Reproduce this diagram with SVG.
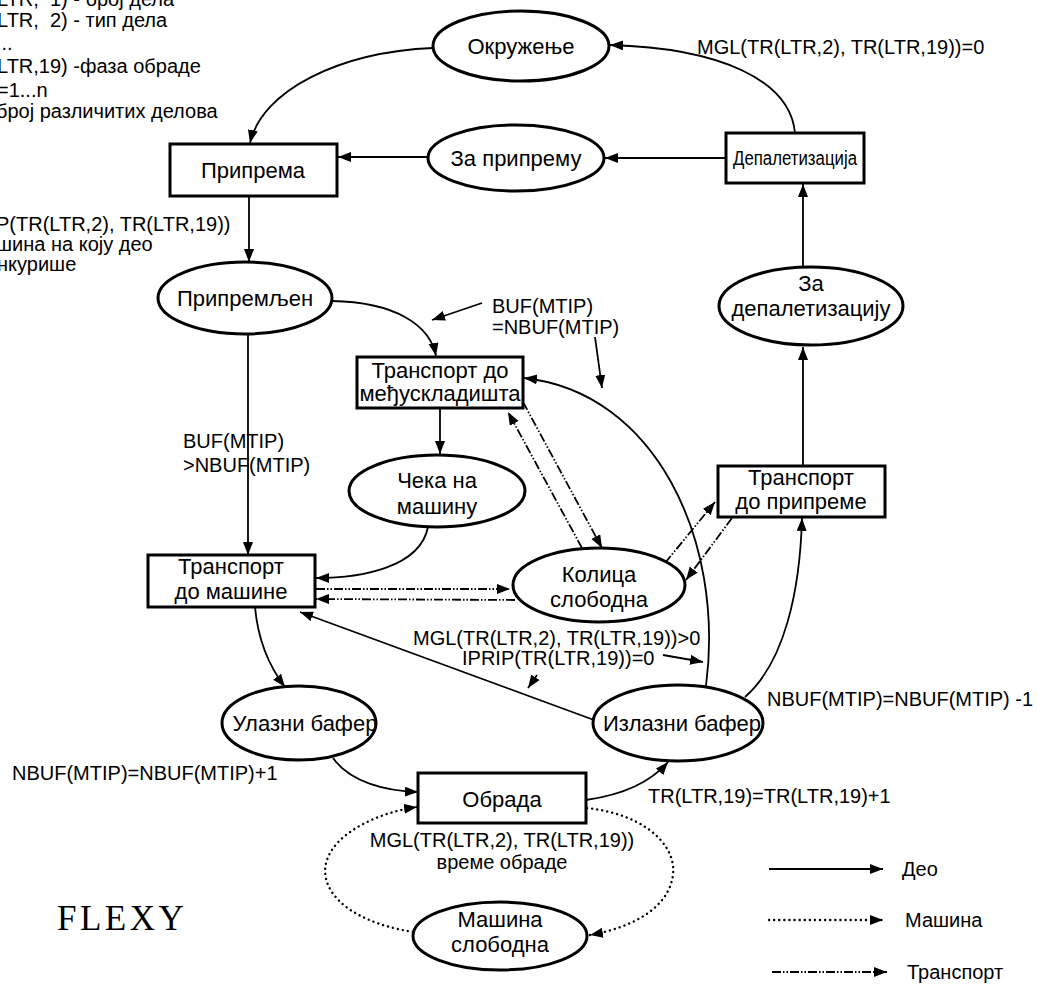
<svg xmlns="http://www.w3.org/2000/svg" width="1037" height="985" viewBox="0 0 1037 985">
<style>
.n{fill:#fff;stroke:#000;stroke-width:3}
.t{font-family:"Liberation Sans",Arial,sans-serif;font-size:22px;fill:#000;text-anchor:middle}
.l{font-family:"Liberation Sans",Arial,sans-serif;font-size:20px;fill:#000}
.c{fill:none;stroke:#000;stroke-width:1.8}
.s{marker-end:url(#ah)}
.d{stroke-dasharray:0.1 5;stroke-linecap:round;stroke-width:2.4}
.tr{stroke-dasharray:9 2 1.5 2 1.5 2}
</style>
<defs>
<marker id="ah" markerUnits="userSpaceOnUse" markerWidth="14" markerHeight="11" refX="13" refY="5" orient="auto">
<path d="M0,0 L13,5 L0,10 z" fill="#000"/>
</marker>
</defs>
<rect width="1037" height="985" fill="#fff"/>

<g id="notes">
<text class="l" x="-3" y="6" xml:space="preserve">LTR,  1) - број дела</text>
<text class="l" x="-3" y="27" xml:space="preserve">LTR,  2) - тип дела</text>
<text class="l" x="-4" y="50">...</text>
<text class="l" x="-3" y="73">LTR,19) -фаза обраде</text>
<text class="l" x="-3" y="97">=1...n</text>
<text class="l" x="-4" y="118">број различитих делова</text>
<text class="l" x="-4" y="231">P(TR(LTR,2), TR(LTR,19))</text>
<text class="l" x="-4" y="251">шина на коју део</text>
<text class="l" x="-3" y="271">нкурише</text>
<text class="l" x="697" y="54">MGL(TR(LTR,2), TR(LTR,19))=0</text>
<text class="l" x="492" y="313">BUF(MTIP)</text>
<text class="l" x="492" y="334">=NBUF(MTIP)</text>
<text class="l" x="183" y="448">BUF(MTIP)</text>
<text class="l" x="183" y="472">&gt;NBUF(MTIP)</text>
<text class="l" x="413" y="645">MGL(TR(LTR,2), TR(LTR,19))&gt;0</text>
<text class="l" x="462" y="665">IPRIP(TR(LTR,19))=0</text>
<text class="l" x="767" y="706">NBUF(MTIP)=NBUF(MTIP) -1</text>
<text class="l" x="12" y="780">NBUF(MTIP)=NBUF(MTIP)+1</text>
<text class="l" x="648" y="803">TR(LTR,19)=TR(LTR,19)+1</text>
<text class="l" x="502" y="847" text-anchor="middle">MGL(TR(LTR,2), TR(LTR,19))</text>
<text class="l" x="502" y="869" text-anchor="middle">време обраде</text>
<text x="57" y="930" font-family="'Liberation Serif','Times New Roman',serif" font-size="35" letter-spacing="3.5" fill="#000">FLEXY</text>
</g>

<g id="connectors">
<path class="c s" d="M433,48 C340,52 262,90 250,143"/>
<path class="c s" d="M428,157 L338,157"/>
<path class="c s" d="M726,158 L605,158"/>
<path class="c s" d="M795,133 C790,80 720,48 610,45"/>
<path class="c s" d="M249,196 L249,262"/>
<path class="c s" d="M332,301 C395,302 430,325 436,356"/>
<path class="c s" d="M248,334 L248,555"/>
<path class="c s" d="M440,408 L440,454"/>
<path class="c s" d="M428,527 C420,568 360,578 316,578"/>
<path class="c s" d="M255,607 C258,640 268,665 285,687"/>
<path class="c s" d="M333,758 C350,782 385,791 418,792"/>
<path class="c s" d="M586,800 C622,795 650,783 668,762"/>
<path class="c s" d="M594,720 L300,612"/>
<path class="c s" d="M706,686 C725,540 655,392 524,378"/>
<path class="c s" d="M745,697 C785,662 800,590 802,518"/>
<path class="c s" d="M803,466 L803,347"/>
<path class="c s" d="M803,267 L803,184"/>
<path class="c s" d="M482,303 L432,320"/>
<path class="c s" d="M595,337 L602,388"/>
<path class="c s" d="M663,655 L703,662"/>
<path class="c s" d="M537,675 L528,688"/>
<path class="c d s" d="M413,932 C340,920 318,885 327,860 C336,832 380,812 417,807"/>
<path class="c d s" d="M587,808 C650,815 680,850 672,880 C665,910 630,928 590,935"/>
<path class="c tr s" d="M582,548 L508,412"/>
<path class="c tr s" d="M523,402 L602,548"/>
<path class="c tr s" d="M665,563 L715,502"/>
<path class="c tr s" d="M732,518 L686,580"/>
<path class="c tr s" d="M316,589 L510,589"/>
<path class="c tr s" d="M515,600 L316,599"/>
</g>

<g id="legend">
<path class="c s" d="M769,869 L883,869"/>
<path class="c d s" d="M769,920 L883,920"/>
<path class="c tr s" d="M772,972 L887,972"/>
<text class="l" x="902" y="876">Део</text>
<text class="l" x="905" y="927">Машина</text>
<text class="l" x="907" y="979">Транспорт</text>
</g>

<g id="okruzenje"><ellipse class="n" cx="521" cy="46" rx="88" ry="35"/><text class="t" x="521" y="54">Окружење</text></g>
<g id="za-pripremu"><ellipse class="n" cx="516" cy="158" rx="88" ry="33"/><text class="t" x="516" y="166">За припрему</text></g>
<g id="depaletizacija"><rect class="n" x="726" y="133" width="138" height="50"/><text class="t" x="795" y="165" style="font-size:20px" textLength="124" lengthAdjust="spacingAndGlyphs">Депалетизација</text></g>
<g id="priprema"><rect class="n" x="170" y="144" width="167" height="52"/><text class="t" x="253" y="178">Припрема</text></g>
<g id="pripremljen"><ellipse class="n" cx="245" cy="298" rx="87" ry="36"/><text class="t" x="245" y="306">Припремљен</text></g>
<g id="transport-medju"><rect class="n" x="357" y="357" width="166" height="51"/><text class="t" x="440" y="378">Транспорт до</text><text class="t" x="440" y="401">међускладишта</text></g>
<g id="ceka"><ellipse class="n" cx="437" cy="491" rx="88" ry="36"/><text class="t" x="437" y="488">Чека на</text><text class="t" x="437" y="514">машину</text></g>
<g id="transport-masine"><rect class="n" x="148" y="555" width="167" height="52"/><text class="t" x="231" y="574">Транспорт</text><text class="t" x="231" y="599">до машине</text></g>
<g id="kolica"><ellipse class="n" cx="599" cy="585" rx="86" ry="37"/><text class="t" x="599" y="582">Колица</text><text class="t" x="599" y="607">слободна</text></g>
<g id="transport-pripreme"><rect class="n" x="718" y="466" width="167" height="51"/><text class="t" x="801" y="485">Транспорт</text><text class="t" x="801" y="509">до припреме</text></g>
<g id="za-depaletizaciju"><ellipse class="n" cx="811" cy="306" rx="92" ry="39"/><text class="t" x="811" y="291">За</text><text class="t" x="811" y="316">депалетизацију</text></g>
<g id="ulazni"><ellipse class="n" cx="299" cy="723" rx="77" ry="37"/><text class="t" x="305" y="731">Улазни бафер</text></g>
<g id="izlazni"><ellipse class="n" cx="678" cy="723" rx="85" ry="38"/><text class="t" x="682" y="731">Излазни бафер</text></g>
<g id="obrada"><rect class="n" x="418" y="773" width="168" height="50"/><text class="t" x="502" y="807">Обрада</text></g>
<g id="masina"><ellipse class="n" cx="500" cy="936" rx="87" ry="34"/><text class="t" x="500" y="927">Машина</text><text class="t" x="500" y="952">слободна</text></g>
</svg>
